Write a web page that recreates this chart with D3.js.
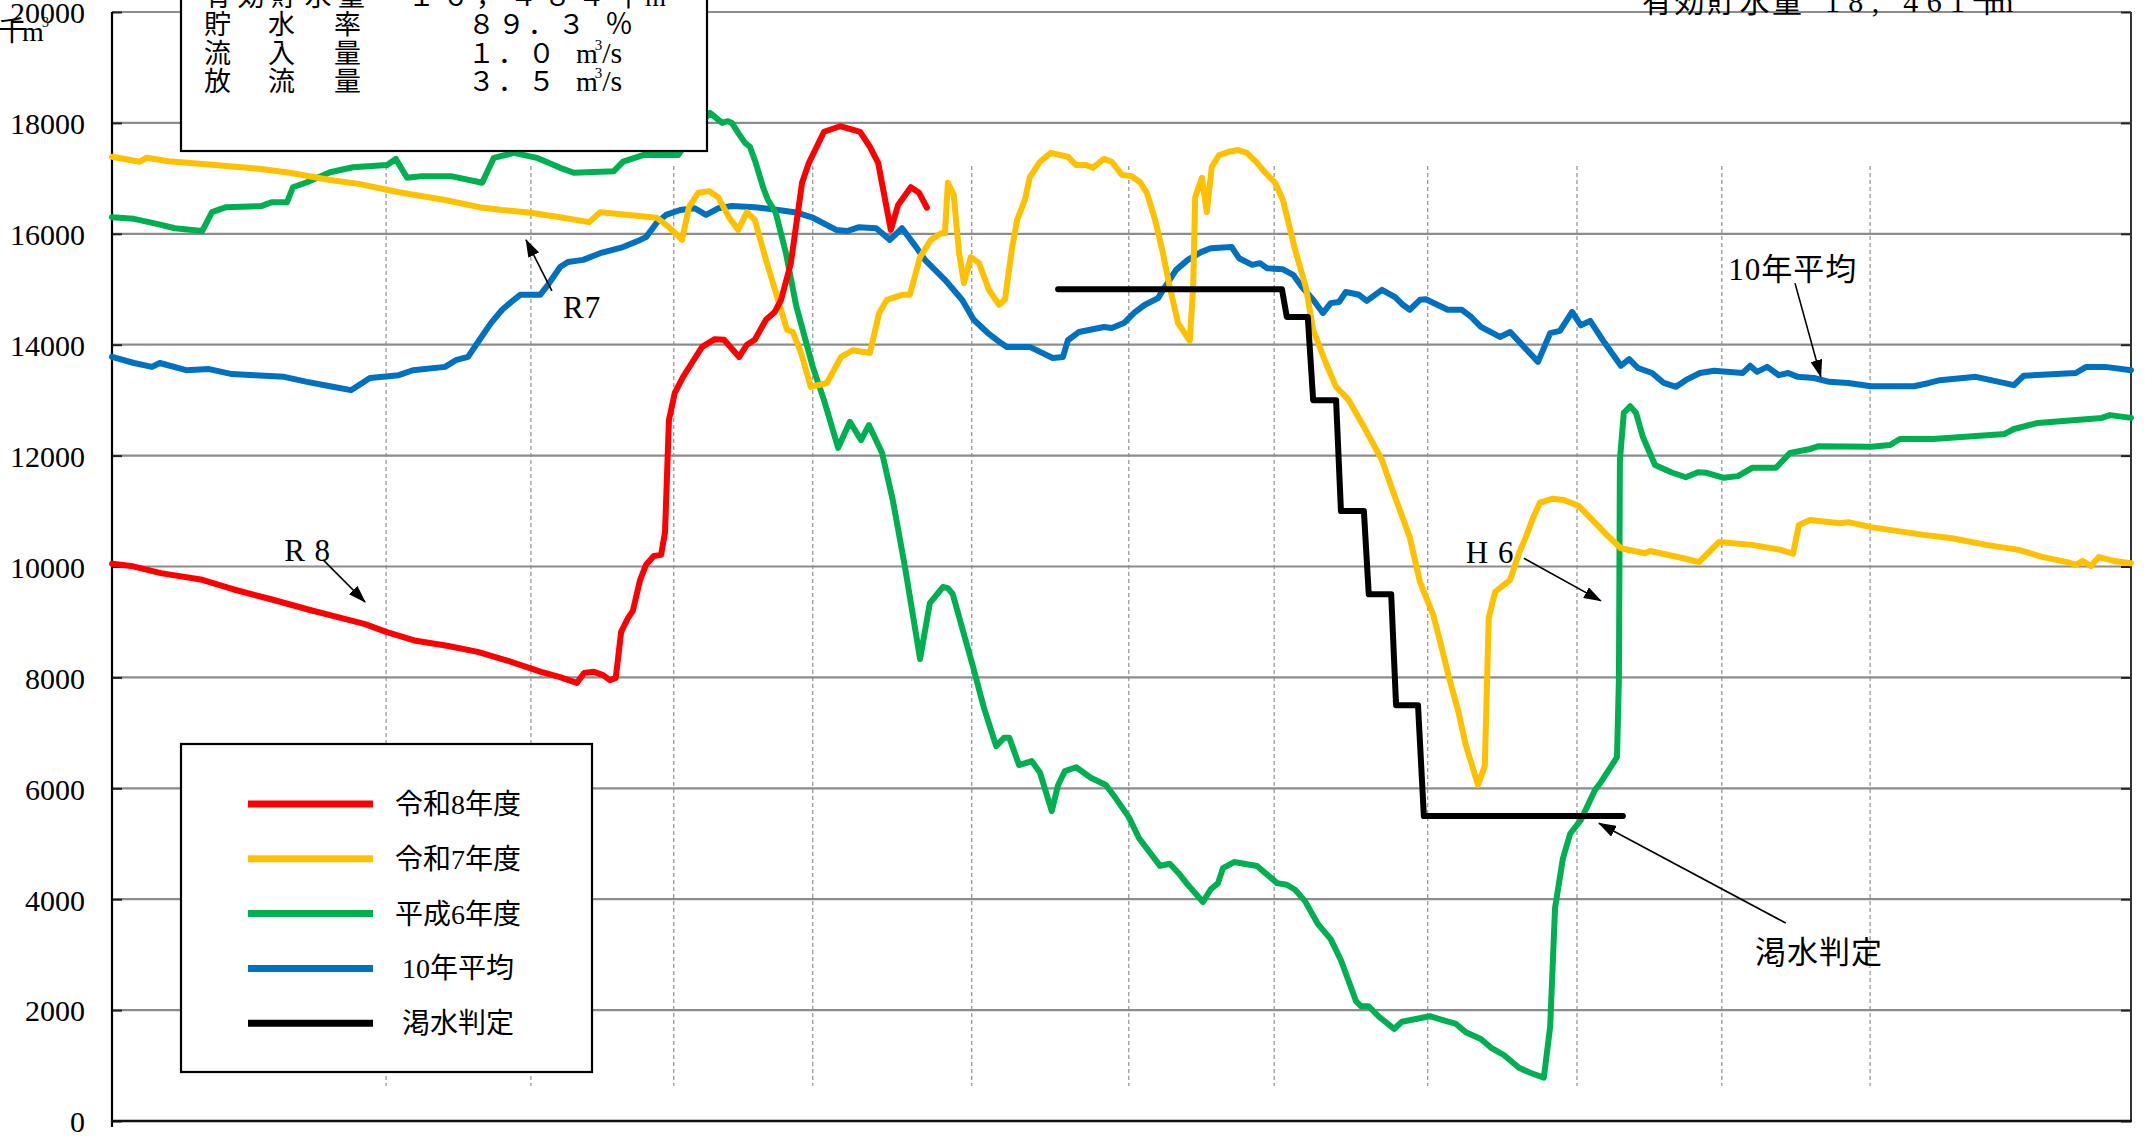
<!DOCTYPE html>
<html>
<head>
<meta charset="utf-8">
<script src="https://cdn.jsdelivr.net/npm/d3@7"></script>
<style>
  body { margin: 0; background: #fff; }
  svg { display: block; }
  text { font-family: "Liberation Serif", "Noto Sans CJK JP", serif; fill: #000; }
</style>
</head>
<body>
<div id="chart"></div>
<script>
// storage volume (千m3), x = day index from the start of the chart
const yTicks = [0, 2000, 4000, 6000, 8000, 10000, 12000, 14000, 16000, 18000, 20000];
const monthBreaks = [56.2, 85.9, 115.2, 143.7, 176.3, 208.5, 238.3, 269.8, 300.4, 330.1, 360.5];

const r8 = [[0,10050],[3.9,10010],[10,9880],[18.5,9760],[24.8,9590],[33,9400],[40.4,9220],[46.1,9090],[51.9,8960],[56.2,8820],[62.3,8660],[68.7,8570],[75,8460],[81.2,8300],[88,8100],[91.7,8010],[95.3,7900],[96.8,8080],[98.8,8100],[100.7,8040],[102.1,7950],[103.3,7990],[104.4,8820],[105.8,9070],[106.8,9200],[108.3,9760],[109.5,10030],[111.1,10190],[112.6,10210],[113.4,10620],[114.2,12640],[115.4,13130],[117.1,13420],[118.9,13670],[121,13960],[123.6,14100],[125.5,14090],[128.6,13780],[130.2,14000],[131.8,14090],[134.1,14450],[135.9,14590],[137.2,14810],[139.2,15470],[141.5,16920],[142.9,17280],[146,17840],[149.3,17940],[153.4,17840],[155.4,17570],[157.1,17280],[159.7,16070],[161.2,16520],[163.8,16840],[165.5,16740],[167.1,16470]];

const r7 = [[0,17390],[5.7,17300],[7,17370],[11.7,17310],[21.1,17240],[30.6,17170],[36.5,17100],[44.7,16970],[50.6,16900],[58.8,16750],[68.3,16610],[75.3,16480],[80,16430],[85.9,16380],[91.9,16300],[97.8,16210],[100.1,16390],[106,16340],[111.7,16290],[114.2,16120],[116.9,15890],[118.3,16480],[120.2,16740],[122.4,16770],[124.3,16660],[126.5,16300],[128.4,16070],[130.2,16390],[131.8,16250],[134.3,15470],[137.2,14630],[138.4,14270],[139.6,14230],[141.3,13850],[143.3,13240],[146.6,13310],[149.5,13780],[151.9,13900],[155.4,13850],[157.3,14570],[158.9,14810],[162,14900],[163.6,14900],[165.7,15580],[167.9,15890],[170,16010],[170.8,16010],[171.4,16920],[172.6,16700],[173.7,15650],[174.7,15110],[176.1,15580],[177.8,15470],[179.8,14990],[181.9,14720],[183.1,14810],[184.5,15710],[185.6,16250],[187.2,16610],[188.2,17020],[190.3,17300],[192.5,17460],[196,17390],[197.7,17240],[199.7,17240],[201.1,17190],[203.4,17350],[205,17300],[207.1,17060],[209.1,17040],[210.8,16930],[212.2,16740],[213.9,16250],[215.5,15650],[216.9,15040],[218.6,14390],[221,14070],[221.7,15040],[222.1,16660],[223.5,17010],[224.5,16390],[225.5,17200],[227,17420],[229,17480],[230.9,17510],[232.7,17460],[234.8,17280],[236.4,17110],[238.5,16920],[240.1,16610],[241.1,16250],[242.6,15710],[244.8,15040],[246.3,14270],[248.9,13670],[251,13240],[253.6,13000],[256.7,12520],[260.4,11920],[263.1,11250],[266.1,10530],[268.2,9720],[270.9,9130],[272.3,8660],[274.3,7950],[276,7410],[277.6,6780],[280.1,6060],[281.5,6400],[282.3,9070],[283.6,9540],[286.7,9760],[288.5,10240],[289.9,10530],[291.4,10880],[292.8,11150],[295.3,11220],[297.7,11200],[300.8,11090],[303.1,10880],[306.5,10570],[309.4,10330],[314.3,10240],[315.4,10280],[322.7,10140],[325.4,10080],[329.5,10440],[336.3,10390],[342.2,10300],[344.7,10230],[345.9,10750],[348.2,10840],[354.3,10780],[356,10800],[360.7,10710],[371.5,10570],[377.3,10510],[384.3,10390],[391,10300],[396,10170],[400.9,10080],[402.7,10030],[404.1,10100],[405.8,10010],[407.4,10170],[410.5,10100],[414,10060]];

const h6 = [[0,16300],[4.5,16270],[9.2,16180],[12.9,16100],[18.5,16050],[20.5,16390],[23.4,16480],[30.6,16500],[32.8,16570],[35.9,16570],[37.1,16840],[40,16930],[44.7,17110],[49.4,17200],[56.4,17240],[58.2,17350],[60.5,17010],[63.6,17040],[69.5,17040],[75.9,16920],[78.3,17370],[82.4,17460],[87.1,17370],[91.9,17190],[94.7,17100],[102.9,17130],[104.8,17300],[108.9,17420],[116.1,17420],[119.5,17870],[122.6,18180],[125.1,18000],[126.3,18030],[127.1,18000],[128.4,17820],[129.8,17640],[130.8,17570],[132,17280],[133.5,16840],[134.5,16610],[136.1,16380],[138.2,15650],[140.3,14700],[143.7,13600],[146,13000],[148.9,12140],[151.3,12610],[153.6,12280],[155.2,12550],[157.9,12050],[160.1,11200],[162.6,9990],[165.7,8330],[167.7,9340],[170.4,9630],[171.4,9610],[172.4,9500],[176.5,8210],[178.8,7450],[181.3,6760],[182.9,6910],[184,6910],[186,6420],[188.6,6490],[190.3,6280],[192.7,5590],[194,6060],[195.4,6310],[197.7,6380],[200.7,6190],[203.8,6060],[205.9,5810],[208.5,5480],[210.6,5100],[214.9,4600],[216.9,4640],[219,4440],[220.6,4260],[223.7,3950],[225.3,4180],[226.8,4290],[227.8,4560],[230.1,4670],[234.8,4600],[238.9,4290],[240.9,4260],[242.6,4170],[244.6,3970],[247.3,3550],[249.9,3280],[252,2900],[255.1,2160],[256.1,2070],[257.7,2070],[259.8,1880],[262.9,1660],[264.5,1790],[270.2,1890],[272.9,1820],[275.6,1750],[277.6,1600],[280.7,1480],[282.8,1320],[285.4,1190],[288.5,960],[290.8,870],[293.6,780],[294.9,1700],[295.9,3840],[297.5,4730],[299,5180],[301.2,5430],[304.1,5970],[305.3,6110],[308.6,6560],[309,7990],[309.2,11920],[310,12770],[311.3,12890],[312.5,12770],[313.9,12340],[316.4,11830],[319.7,11700],[322.7,11610],[325.2,11700],[327,11690],[330.5,11600],[333.4,11630],[336.3,11780],[341.2,11780],[344.1,12050],[348.2,12120],[350,12170],[360.7,12160],[364.6,12190],[366.6,12300],[373.4,12300],[388.1,12390],[390,12480],[394.9,12590],[408,12680],[409.7,12730],[414,12680]];

const avg10 = [[0,13780],[4.5,13670],[8.2,13600],[9.8,13670],[15.2,13540],[19.9,13560],[24.6,13470],[29.3,13450],[35.3,13420],[40,13330],[44.7,13250],[49,13180],[52.9,13400],[58.8,13450],[61.7,13540],[68.3,13600],[70.5,13720],[73,13780],[75.3,14080],[77.7,14390],[80,14630],[82.4,14810],[83.7,14900],[87.8,14900],[89.4,15080],[91.9,15400],[93.5,15490],[96.6,15530],[100.1,15650],[104.8,15760],[108.3,15890],[109.5,15940],[111.7,16200],[113.6,16340],[116.5,16430],[119.5,16460],[121.8,16340],[124.3,16460],[127.1,16500],[131.8,16480],[136.6,16430],[140,16390],[143.7,16290],[148.5,16070],[150.7,16050],[153.2,16120],[156.7,16100],[159.5,15890],[162,16100],[164.9,15760],[166.7,15530],[170.8,15170],[174.3,14810],[176.7,14450],[179.6,14210],[182.3,14030],[183.5,13960],[188.2,13960],[190.3,13870],[192.9,13760],[195,13780],[196,14080],[198.3,14230],[203.4,14320],[205,14300],[207.5,14390],[209.8,14590],[211.8,14720],[214.5,14840],[215.9,15040],[218.2,15350],[220.6,15530],[223.3,15670],[225.3,15740],[229.6,15760],[231.1,15560],[233.8,15440],[235.4,15470],[236.8,15380],[240.1,15360],[242.2,15260],[244.2,15020],[246.3,14810],[248.3,14570],[249.9,14750],[251.6,14770],[253,14950],[255.7,14900],[257.3,14790],[260.4,14990],[263.1,14860],[264.7,14720],[266.1,14630],[268.2,14810],[269.4,14820],[273.9,14630],[276.8,14630],[278.7,14500],[280.7,14320],[284.6,14140],[286.7,14230],[292.4,13690],[294.9,14210],[296.9,14250],[299.4,14590],[301.2,14350],[303.1,14430],[306.1,14030],[309.4,13620],[311.1,13740],[312.9,13580],[315.8,13490],[318.2,13310],[320.7,13240],[322.7,13360],[325.6,13490],[328.5,13530],[334.4,13490],[335.9,13620],[337.3,13510],[339.4,13600],[341.8,13450],[343.7,13490],[345.7,13420],[349,13400],[352.1,13330],[356,13310],[360.7,13250],[369.5,13250],[372.6,13310],[374.8,13360],[382.2,13420],[390,13270],[392,13440],[402.7,13490],[404.8,13600],[408.7,13600],[414,13540]];

const drought = [[194,15000],[239.9,15000],[240.9,14500],[245.2,14500],[246.3,13000],[251,13000],[252,11000],[256.7,11000],[257.7,9500],[262.3,9500],[263.3,7500],[267.8,7500],[269,5500],[309.8,5500]];

const legendLabels = ["令和8年度", "令和7年度", "平成6年度", "10年平均", "渇水判定"];
const legendColors = ["#ff0000", "#ffc000", "#00b050", "#0070c0", "#000000"];

const infoLabels = ["有効貯水量", "貯水率", "流入量", "放流量"];
const infoValues = ["１６，４８４", "８９．３", "１．０", "３．５"];
const infoUnits = ["千m", "％", "m", "m"];
const capacityValue = "18, 461";

// annotation text and arrows, in data units: [day, value]
const notes = [
  {text: "R 8", at: [35.3, 10100], from: [43.3, 10120], to: [51.9, 9360]},
  {text: "R7", at: [92.5, 14480], from: [90.2, 14970], to: [84.9, 15890]},
  {text: "H 6", at: [277.6, 10060], from: [289.5, 10150], to: [305.3, 9380]},
  {text: "10年平均", at: [331.4, 15170], from: [345.1, 15110], to: [350.4, 13420]},
  {text: "渇水判定", at: [336.9, 2850], from: [343.2, 3570], to: [304.9, 5370]}
];

const width = 2145, height = 1136;
const margin = {top: 12, right: 14, bottom: 15, left: 112};

const svg = d3.select("#chart").append("svg")
    .attr("width", width)
    .attr("height", height);

const x = d3.scaleLinear()
  .domain([0, 414])
  .range([margin.left, width - margin.right]);

const y = d3.scaleLinear()
  .domain([0, 20000])
  .range([height - margin.bottom, margin.top]);

// month separators (dotted)
svg.append("g")
  .selectAll("line")
  .data(monthBreaks)
  .join("line")
    .attr("x1", d => x(d)).attr("x2", d => x(d))
    .attr("y1", 166).attr("y2", 1086)
    .attr("stroke", "#7a7a7a")
    .attr("stroke-width", 1)
    .attr("stroke-dasharray", "4,3");

// horizontal gridlines
svg.append("g")
  .selectAll("line")
  .data(yTicks.filter(d => d > 0))
  .join("line")
    .attr("x1", x(0)).attr("x2", x(414))
    .attr("y1", d => y(d)).attr("y2", d => y(d))
    .attr("stroke", "#8c8c8c")
    .attr("stroke-width", 2.2);

// tick labels
svg.append("g")
    .attr("transform", `translate(${x(0)},0)`)
    .call(d3.axisLeft(y).tickValues(yTicks).tickSize(0).tickPadding(27).tickFormat(d3.format("d")))
    .call(g => g.select(".domain").remove())
    .call(g => g.selectAll("text")
      .attr("dy", "0.36em")
      .style("font-family", "'Liberation Serif', serif")
      .style("font-size", "30px"));

// small inner ticks on both sides
svg.append("g")
    .attr("transform", `translate(${x(0)},0)`)
    .call(d3.axisRight(y).tickValues(yTicks).tickSize(10).tickFormat(""))
    .call(g => g.select(".domain").remove())
    .call(g => g.selectAll("line").attr("stroke", "#222").attr("stroke-width", 2));
svg.append("g")
    .attr("transform", `translate(${x(414)},0)`)
    .call(d3.axisLeft(y).tickValues(yTicks).tickSize(10).tickFormat(""))
    .call(g => g.select(".domain").remove())
    .call(g => g.selectAll("line").attr("stroke", "#222").attr("stroke-width", 2));

// frame
svg.append("line")
    .attr("x1", x(0)).attr("x2", x(0)).attr("y1", y(20000)).attr("y2", y(0) + 6)
    .attr("stroke", "#000").attr("stroke-width", 2.2);
svg.append("line")
    .attr("x1", x(414)).attr("x2", x(414)).attr("y1", y(20000)).attr("y2", y(0))
    .attr("stroke", "#333").attr("stroke-width", 2);
svg.append("line")
    .attr("x1", x(0) - 1).attr("x2", x(414) + 1).attr("y1", y(0)).attr("y2", y(0))
    .attr("stroke", "#111").attr("stroke-width", 2.6);

// unit label
const unit = svg.append("text")
    .attr("x", -2).attr("y", 41)
    .style("font-size", "28px");
unit.append("tspan").text("千");
unit.append("tspan").attr("x", 22).text("m");
unit.append("tspan").attr("x", 42).attr("y", 27).style("font-size", "14px").text("3");

// series
const line = d3.line()
  .x(d => x(d[0]))
  .y(d => y(d[1]));

const series = [
  {data: avg10, color: legendColors[3]},
  {data: h6, color: legendColors[2]},
  {data: r7, color: legendColors[1]},
  {data: drought, color: legendColors[4]},
  {data: r8, color: legendColors[0]}
];

svg.append("g")
  .selectAll("path")
  .data(series)
  .join("path")
    .attr("d", d => line(d.data))
    .attr("fill", "none")
    .attr("stroke", d => d.color)
    .attr("stroke-width", 6)
    .attr("stroke-linejoin", "round")
    .attr("stroke-linecap", "round");

// arrows
svg.append("defs").append("marker")
    .attr("id", "head")
    .attr("viewBox", "0 0 18 12")
    .attr("refX", 17).attr("refY", 6)
    .attr("markerWidth", 18).attr("markerHeight", 12)
    .attr("markerUnits", "userSpaceOnUse")
    .attr("orient", "auto")
  .append("path")
    .attr("d", "M0,0L18,6L0,12Z")
    .attr("fill", "#000");

svg.append("g")
  .selectAll("line")
  .data(notes)
  .join("line")
    .attr("x1", d => x(d.from[0])).attr("y1", d => y(d.from[1]))
    .attr("x2", d => x(d.to[0])).attr("y2", d => y(d.to[1]))
    .attr("stroke", "#000")
    .attr("stroke-width", 1.6)
    .attr("marker-end", "url(#head)");

svg.append("g")
  .selectAll("text")
  .data(notes)
  .join("text")
    .attr("x", d => x(d.at[0]))
    .attr("y", d => y(d.at[1]))
    .style("font-size", "31px")
    .style("letter-spacing", "1px")
    .text(d => d.text);

// info box (top left, cut by the top edge)
const info = svg.append("g");
info.append("rect")
    .attr("x", 181).attr("y", -14)
    .attr("width", 526).attr("height", 165)
    .attr("fill", "#fff")
    .attr("stroke", "#000")
    .attr("stroke-width", 2.2);

info.append("text")
    .attr("x", 204).attr("y", 6)
    .attr("textLength", 161).attr("lengthAdjust", "spacing")
    .style("font-size", "27px")
    .text(infoLabels[0]);
info.append("text")
    .attr("x", 408).attr("y", 6)
    .attr("textLength", 197).attr("lengthAdjust", "spacing")
    .style("font-size", "27px")
    .text(infoValues[0]);
const u0 = info.append("text").attr("x", 615).attr("y", 6).style("font-size", "27px");
u0.append("tspan").text("千");
u0.append("tspan").attr("x", 645).text("m");
u0.append("tspan").attr("dy", -12).style("font-size", "14px").text("3");

infoLabels.slice(1).forEach((lab, i) => {
  const by = 34 + i * 28.5;
  info.append("text")
      .attr("x", "204 268 334").attr("y", by)
      .style("font-size", "27px")
      .text(lab);
  info.append("text")
      .attr("x", 468).attr("y", by)
      .style("font-size", "27px")
      .style("letter-spacing", "3px")
      .text(infoValues[i + 1]);
  const u = info.append("text")
      .attr("x", i === 0 ? 605 : 576).attr("y", by)
      .style("font-size", "28px");
  u.append("tspan").text(infoUnits[i + 1]);
  if (i > 0) {
    u.append("tspan").attr("dy", -13).attr("dx", -3).style("font-size", "15px").text("3");
    u.append("tspan").attr("dy", 13).style("font-size", "30px").text("/s");
  }
});

// effective capacity (top right, cut by the top edge)
svg.append("text")
    .attr("x", 1642).attr("y", 12)
    .attr("textLength", 160).attr("lengthAdjust", "spacing")
    .style("font-size", "30px")
    .text("有効貯水量");
svg.append("text")
    .attr("x", 1825).attr("y", 12)
    .attr("textLength", 140).attr("lengthAdjust", "spacing")
    .style("font-size", "30px")
    .text(capacityValue);
const cu = svg.append("text").attr("x", 1972).attr("y", 12).style("font-size", "30px");
cu.append("tspan").text("千");
cu.append("tspan").attr("x", 1990).text("m");

// legend
const legend = svg.append("g");
legend.append("rect")
    .attr("x", 181).attr("y", 744)
    .attr("width", 411).attr("height", 328)
    .attr("fill", "#fff")
    .attr("stroke", "#000")
    .attr("stroke-width", 2.2);

const items = legend.selectAll("g.item")
  .data(legendLabels)
  .join("g")
    .attr("class", "item")
    .attr("transform", (d, i) => `translate(0, ${804 + i * 54.8})`);

items.append("line")
    .attr("x1", 248).attr("x2", 373)
    .attr("stroke", (d, i) => legendColors[i])
    .attr("stroke-width", 7);

items.append("text")
    .attr("x", 458)
    .attr("dy", "0.36em")
    .attr("text-anchor", "middle")
    .style("font-size", "28px")
    .text(d => d);
</script>
</body>
</html>
